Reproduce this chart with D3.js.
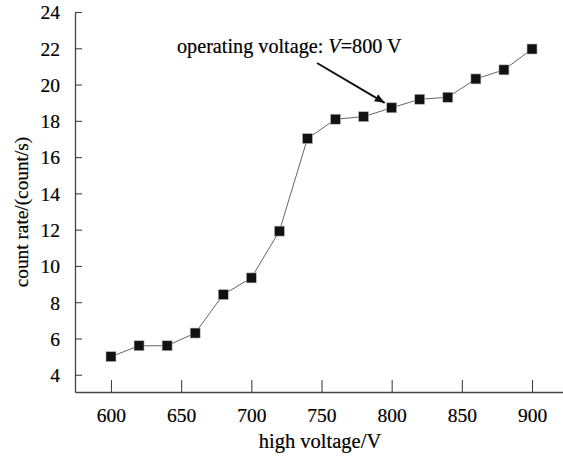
<!DOCTYPE html>
<html>
<head>
<meta charset="utf-8">
<script src="https://cdn.jsdelivr.net/npm/d3@7"></script>
<style>
  body { margin: 0; background: #fff; }
  svg { display: block; }
  svg text { font-family: 'Liberation Serif', 'Times New Roman', serif !important; }
</style>
</head>
<body>
<div id="chart"></div>
<script>
// data
const voltages = [600, 620, 640, 660, 680, 700, 720, 740, 760, 780, 800, 820, 840, 860, 880, 900];
const countRates = [5.0, 5.6, 5.6, 6.3, 8.42, 9.34, 11.92, 17.02, 18.09, 18.23, 18.72, 19.19, 19.3, 20.31, 20.81, 21.96];
const xTicks = [600, 650, 700, 750, 800, 850, 900];
const yTicks = [4, 6, 8, 10, 12, 14, 16, 18, 20, 22, 24];
const operatingVoltage = 800;

const width = 563, height = 459;
const plotLeft = 75, plotRight = 563, plotTop = 12, plotBottom = 392;

const svg = d3.select('#chart').append('svg')
  .attr('width', width)
  .attr('height', height);

// x axis runs a bit past the data on both sides
const x = d3.scaleLinear()
  .domain([600 - 36 / 1.4043, 900 + 31 / 1.4043])
  .range([plotLeft, plotRight]);

const y = d3.scaleLinear()
  .domain([3.05, 24])
  .range([plotBottom, plotTop]);

// axes: ticks point inward, no end ticks
const xAxis = svg.append('g')
  .attr('transform', `translate(0,${plotBottom})`)
  .call(d3.axisBottom(x).tickValues(xTicks).tickSize(-12).tickSizeOuter(0).tickPadding(16));

const yAxis = svg.append('g')
  .attr('transform', `translate(${plotLeft},0)`)
  .call(d3.axisLeft(y).tickValues(yTicks).tickSize(-7).tickSizeOuter(0).tickPadding(15));

[xAxis, yAxis].forEach(ax => {
  ax.attr('font-size', 19.5);
  ax.select('.domain').attr('stroke', '#444').attr('stroke-width', 1.3);
  ax.selectAll('.tick line').attr('stroke', '#444').attr('stroke-width', 1.1);
  ax.selectAll('.tick text')
    .attr('fill', '#000')
    .attr('stroke', '#000')
    .attr('stroke-width', 0.2);
});
yAxis.selectAll('.tick text').attr('dy', '0.35em');
xAxis.selectAll('.tick text').attr('dy', '0.71em');

// axis titles
svg.append('text')
  .attr('x', 320)
  .attr('y', 448)
  .attr('text-anchor', 'middle')
  .attr('font-size', 20.5)
  .attr('fill', '#000')
  .attr('stroke', '#000')
  .attr('stroke-width', 0.2)
  .text('high voltage/V');

svg.append('text')
  .attr('transform', 'translate(28,212) rotate(-90)')
  .attr('text-anchor', 'middle')
  .attr('font-size', 19.3)
  .attr('fill', '#000')
  .attr('stroke', '#000')
  .attr('stroke-width', 0.2)
  .text('count rate/(count/s)');

// line and markers
const points = voltages.map((v, i) => ({ v, c: countRates[i] }));

svg.append('path')
  .datum(points)
  .attr('fill', 'none')
  .attr('stroke', '#666')
  .attr('stroke-width', 1)
  .attr('d', d3.line().x(d => x(d.v)).y(d => y(d.c)));

const m = 10;
svg.selectAll('rect.pt')
  .data(points)
  .join('rect')
  .attr('class', 'pt')
  .attr('x', d => x(d.v) - m / 2)
  .attr('y', d => y(d.c) - m / 2)
  .attr('width', m)
  .attr('height', m)
  .attr('fill', '#111')
  .attr('stroke', '#bbb')
  .attr('stroke-width', 0.6);

// annotation with arrow pointing at the operating point
svg.append('defs').append('marker')
  .attr('id', 'head')
  .attr('viewBox', '0 0 10 10')
  .attr('refX', 10)
  .attr('refY', 5)
  .attr('markerWidth', 5)
  .attr('markerHeight', 5)
  .attr('markerUnits', 'strokeWidth')
  .attr('orient', 'auto')
  .append('path')
  .attr('d', 'M0,1 L10,5 L0,9 z')
  .attr('fill', '#111');

const op = points.find(d => d.v === operatingVoltage);
svg.append('line')
  .attr('x1', 317)
  .attr('y1', 63)
  .attr('x2', x(op.v) - 7)
  .attr('y2', y(op.c) - 5)
  .attr('stroke', '#111')
  .attr('stroke-width', 2)
  .attr('marker-end', 'url(#head)');

const label = svg.append('text')
  .attr('x', 177)
  .attr('y', 53)
  .attr('font-size', 20.2)
  .attr('fill', '#000')
  .attr('stroke', '#000')
  .attr('stroke-width', 0.2);
label.append('tspan').text('operating voltage: ');
label.append('tspan').attr('font-style', 'italic').text('V');
label.append('tspan').text(`=${operatingVoltage} V`);
</script>
</body>
</html>
